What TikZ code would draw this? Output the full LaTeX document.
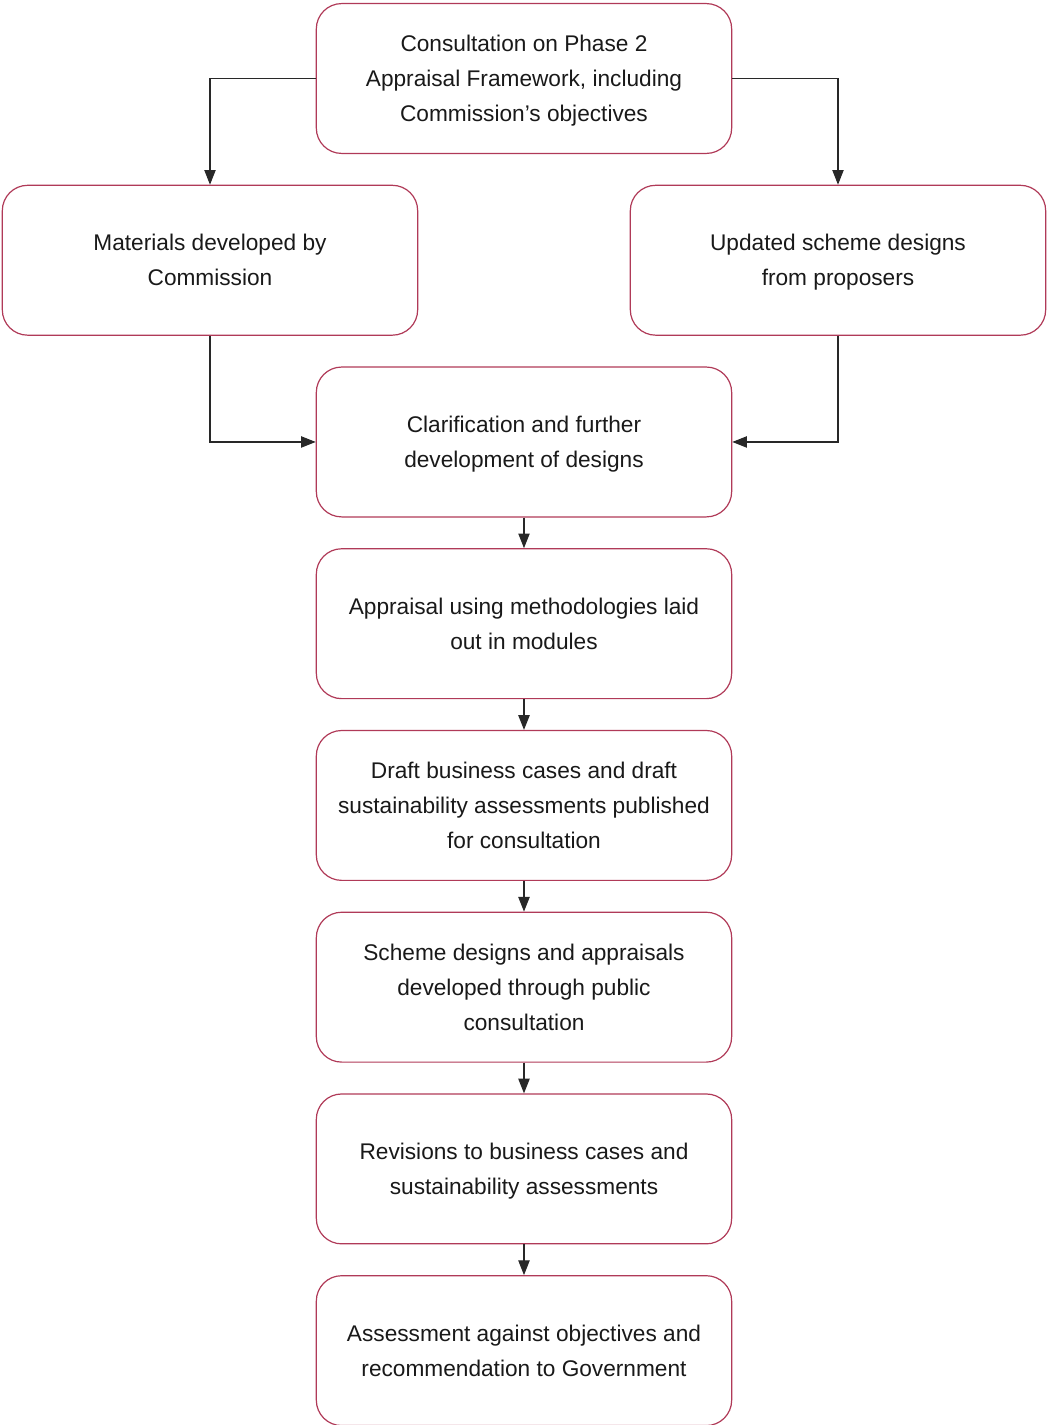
\documentclass[tikz,border=0pt]{standalone}
\usepackage{fontspec}
\setmainfont{Liberation Sans}
\usetikzlibrary{positioning,arrows.meta}
\definecolor{boxline}{RGB}{176,58,88}
\definecolor{arrline}{RGB}{40,40,40}

\begin{document}
\begin{tikzpicture}[
    stage/.style={draw=boxline, line width=0.9pt, rounded corners=19pt,
      minimum width=311.5pt, minimum height=112.4pt, align=center,
      font=\fontsize{17}{26.25}\selectfont, text=black!90, text depth=0pt},
    flow/.style={draw=arrline, line width=0.8pt, -{Triangle[length=11pt,width=8.5pt]}},
    node distance=23pt
  ]
    \useasboundingbox (-393pt,58.875pt) rectangle (392.25pt,-1009.875pt);

    \node[stage] (consult) at (0,0) {Consultation on Phase 2\\Appraisal Framework, including\\Commission’s objectives};
    \node[stage, below=of consult, xshift=-235.5pt] (materials) {Materials developed by\\Commission};
    \node[stage, below=of consult, xshift=235.5pt] (updated) {Updated scheme designs\\from proposers};
    \node[stage, below=of materials, xshift=235.5pt] (clarify) {Clarification and further\\development of designs};
    \node[stage, below=of clarify] (appraisal) {Appraisal using methodologies laid\\out in modules};
    \node[stage, below=of appraisal] (draft) {Draft business cases and draft\\sustainability assessments published\\for consultation};
    \node[stage, below=of draft] (develop) {Scheme designs and appraisals\\developed through public\\consultation};
    \node[stage, below=of develop] (revise) {Revisions to business cases and\\sustainability assessments};
    \node[stage, below=of revise] (assess) {Assessment against objectives and\\recommendation to Government};

    \draw[flow] (consult.west) -| (materials.north);
    \draw[flow] (consult.east) -| (updated.north);
    \draw[flow] (materials.south) |- (clarify.west);
    \draw[flow] (updated.south) |- (clarify.east);
    \draw[flow] (clarify) -- (appraisal);
    \draw[flow] (appraisal) -- (draft);
    \draw[flow] (draft) -- (develop);
    \draw[flow] (develop) -- (revise);
    \draw[flow] (revise) -- (assess);
  \end{tikzpicture}
\end{document}
